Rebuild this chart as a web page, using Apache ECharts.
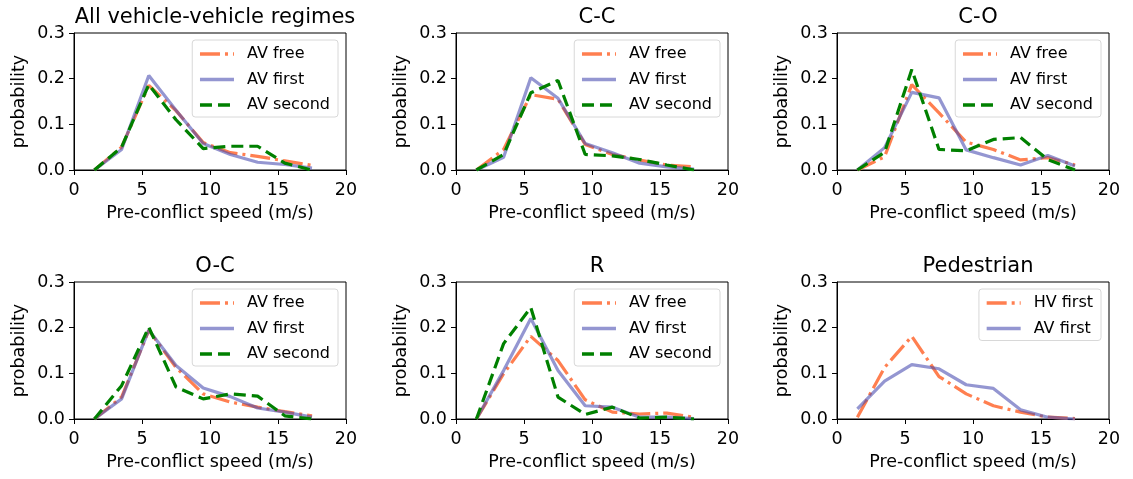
<!DOCTYPE html>
<html>
<head>
<meta charset="utf-8">
<script src="https://cdn.jsdelivr.net/npm/echarts@6/dist/echarts.min.js"></script>
<style>
html,body{margin:0;padding:0;background:#fff;}
#c{width:1133px;height:479px;}
</style>
</head>
<body>
<div id="c"></div>
<script>
// ---- data ----
const speeds = [1.5, 3.5, 5.5, 7.5, 9.5, 11.5, 13.5, 15.5, 17.5];
const panelTitles = ['All vehicle-vehicle regimes', 'C-C', 'C-O', 'O-C', 'R', 'Pedestrian'];
const xTicks = [0, 5, 10, 15, 20];
const yTicks = [0.0, 0.1, 0.2, 0.3];

const allFree   = [0, 0.050, 0.185, 0.130, 0.060, 0.038, 0.030, 0.020, 0.010];
const allFirst  = [0, 0.045, 0.207, 0.131, 0.058, 0.034, 0.017, 0.012, 0.004];
const allSecond = [0, 0.050, 0.187, 0.110, 0.047, 0.052, 0.052, 0.015, 0.000];

const ccFree   = [0, 0.045, 0.165, 0.155, 0.056, 0.034, 0.022, 0.011, 0.007];
const ccFirst  = [0, 0.028, 0.202, 0.157, 0.058, 0.038, 0.015, 0.007, 0.002];
const ccSecond = [0, 0.034, 0.169, 0.196, 0.034, 0.031, 0.023, 0.011, 0.000];

const coFree   = [0, 0.029, 0.187, 0.125, 0.061, 0.045, 0.022, 0.027, 0.011];
const coFirst  = [0, 0.049, 0.170, 0.158, 0.044, 0.027, 0.011, 0.032, 0.009];
const coSecond = [0, 0.039, 0.220, 0.045, 0.042, 0.067, 0.071, 0.023, 0.000];

const ocFree   = [0, 0.048, 0.194, 0.113, 0.055, 0.037, 0.026, 0.016, 0.007];
const ocFirst  = [0, 0.044, 0.195, 0.117, 0.068, 0.049, 0.024, 0.015, 0.004];
const ocSecond = [0, 0.073, 0.201, 0.070, 0.044, 0.055, 0.050, 0.007, 0.000];

const rFree   = [0, 0.099, 0.181, 0.128, 0.042, 0.015, 0.011, 0.013, 0.004];
const rFirst  = [0, 0.106, 0.220, 0.106, 0.029, 0.026, 0.004, 0.004, 0.001];
const rSecond = [0, 0.165, 0.244, 0.048, 0.010, 0.026, 0.002, 0.004, 0.000];

const pedHvFirst = [0.004, 0.113, 0.181, 0.093, 0.055, 0.029, 0.015, 0.004, 0.001];
const pedAvFirst = [0.022, 0.083, 0.119, 0.110, 0.075, 0.067, 0.020, 0.004, 0.000];

const vvNames = ['AV free', 'AV first', 'AV second'];
const pedNames = ['HV first', 'AV first'];

// ---- styles ----
const FONT = 'DejaVu Sans';
const ORANGE = '#ff7f50';
const BLUE = 'rgba(70,74,175,0.58)';
const GREEN = '#008000';
const LW = 3.2;
const styleFree = {color: ORANGE, width: LW, type: [20, 5, 3, 5]};
const styleFirst = {color: BLUE, width: LW, type: 'solid'};
const styleSecond = {color: GREEN, width: LW, type: [12, 6]};

const colsLeft = [74, 456, 837];
const plotW = 272;
const rowsTop = [33, 282];
const plotH = 137;

const panelsData = [
  [[allFree, styleFree], [allFirst, styleFirst], [allSecond, styleSecond]],
  [[ccFree, styleFree], [ccFirst, styleFirst], [ccSecond, styleSecond]],
  [[coFree, styleFree], [coFirst, styleFirst], [coSecond, styleSecond]],
  [[ocFree, styleFree], [ocFirst, styleFirst], [ocSecond, styleSecond]],
  [[rFree, styleFree], [rFirst, styleFirst], [rSecond, styleSecond]],
  [[pedHvFirst, styleFree], [pedAvFirst, styleFirst]]
];

const grids = [], xAxes = [], yAxes = [], titles = [], legends = [], series = [];
for (let p = 0; p < 6; p++) {
  const col = p % 3, row = Math.floor(p / 3);
  const left = colsLeft[col], top = rowsTop[row];
  grids.push({left: left, top: top, width: plotW, height: plotH, show: true,
    borderColor: '#000', borderWidth: 1, backgroundColor: 'transparent'});
  xAxes.push({type: 'value', gridIndex: p, min: xTicks[0], max: xTicks[xTicks.length - 1], interval: 5,
    name: 'Pre-conflict speed (m/s)', nameLocation: 'middle', nameGap: 34,
    nameTextStyle: {fontFamily: FONT, fontSize: 17.5, color: '#000'},
    axisLine: {show: true, onZero: false, lineStyle: {color: '#000', width: 1}},
    axisTick: {show: true, inside: false, length: 5, lineStyle: {color: '#000'}},
    axisLabel: {fontFamily: FONT, fontSize: 17.5, color: '#000', margin: 11},
    splitLine: {show: false}});
  yAxes.push({type: 'value', gridIndex: p, min: yTicks[0], max: yTicks[yTicks.length - 1], interval: 0.1,
    name: 'probability', nameLocation: 'middle', nameGap: 46,
    nameTextStyle: {fontFamily: FONT, fontSize: 17.5, color: '#000'},
    axisLine: {show: true, onZero: false, lineStyle: {color: '#000', width: 1}},
    axisTick: {show: true, inside: false, length: 5, lineStyle: {color: '#000'}},
    axisLabel: {fontFamily: FONT, fontSize: 17.5, color: '#000', margin: 9,
      formatter: v => v.toFixed(1)},
    splitLine: {show: false}});
  titles.push({text: panelTitles[p], left: left + plotW / 2, top: top - 31, textAlign: 'center',
    textStyle: {fontFamily: FONT, fontSize: 21, fontWeight: 'normal', color: '#000'}});
  const names = p === 5 ? pedNames : vvNames;
  const seriesNames = [];
  panelsData[p].forEach((entry, i) => {
    const nm = names[i];
    seriesNames.push(nm);
    series.push({type: 'line', name: nm, xAxisIndex: p, yAxisIndex: p,
      data: speeds.map((s, k) => [s, entry[0][k]]),
      symbol: 'none', lineStyle: entry[1], itemStyle: {color: entry[1].color},
      z: 2 + i, silent: true, animation: false});
  });
  legends.push({
    data: seriesNames.map(n => ({name: n})),
    orient: 'vertical',
    right: 1133 - (left + plotW) + 8,
    top: top + 7,
    itemWidth: 34, itemHeight: 14, itemGap: 9.5,
    padding: [6, 8, 4, 6],
    borderColor: '#d8d8d8', borderWidth: 1, borderRadius: 3,
    backgroundColor: 'rgba(255,255,255,0.8)',
    itemStyle: {opacity: 0},
    lineStyle: {width: 3.5},
    textStyle: {fontFamily: FONT, fontSize: 16, color: '#000', padding: [0, 0, 0, 8]},
    selectedMode: false
  });
}

const chart = echarts.init(document.getElementById('c'), null, {renderer: 'canvas'});
chart.setOption({
  backgroundColor: '#fff',
  animation: false,
  title: titles,
  grid: grids,
  xAxis: xAxes,
  yAxis: yAxes,
  legend: legends,
  series: series
});
</script>
</body>
</html>
